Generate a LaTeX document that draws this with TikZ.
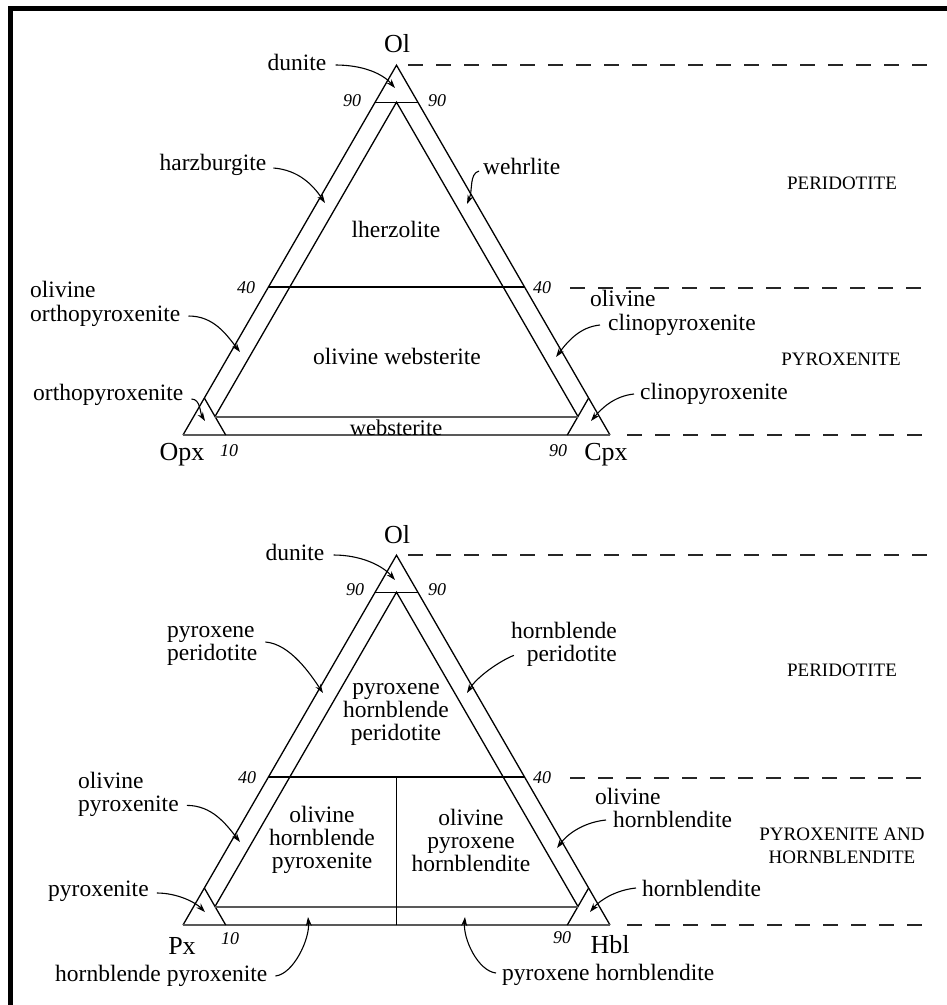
\documentclass[tikz,border=0pt]{standalone}
\usepackage{fontspec}
\setmainfont{Liberation Serif}
\usetikzlibrary{arrows.meta}
\newcommand{\drawtern}[3]{%
  \draw[tline] (#2) -- (#1) -- (#3);
  \draw[bline] (#2) -- (#3);
  \draw[tline] (barycentric cs:#1=0.9,#2=0.1) -- (barycentric cs:#1=0.9,#3=0.1);
  \draw[tline] (barycentric cs:#1=0.4,#2=0.6) -- (barycentric cs:#1=0.4,#3=0.6);
  \draw[tline] (barycentric cs:#2=0.9,#1=0.1) -- (barycentric cs:#2=0.9,#3=0.1);
  \draw[tline] (barycentric cs:#3=0.9,#1=0.1) -- (barycentric cs:#3=0.9,#2=0.1);
  \draw[tline] (barycentric cs:#2=0.9,#1=0.05,#3=0.05) -- (barycentric cs:#1=0.9,#2=0.05,#3=0.05) -- (barycentric cs:#3=0.9,#1=0.05,#2=0.05);
  \draw[bline] (barycentric cs:#2=0.9,#1=0.05,#3=0.05) -- (barycentric cs:#3=0.9,#1=0.05,#2=0.05);
}
\begin{document}
\begin{tikzpicture}[x=1pt,y=-1pt,
  tline/.style={line width=1.3pt, black},
  bline/.style={line width=2pt, black!65},
  zone/.style={line width=2pt, dash pattern=on 15pt off 13pt, black!85},
  lab/.style={inner sep=0pt, font=\fontsize{23.5}{23}\selectfont, align=left},
  labt/.style={inner sep=0pt, font=\fontsize{23.5}{23.5}\selectfont, align=left},
  labc/.style={inner sep=0pt, font=\fontsize{23.5}{23}\selectfont, align=center},
  corner/.style={inner sep=0pt, font=\fontsize{26}{26}\selectfont},
  pct/.style={inner sep=0pt, font=\fontsize{18}{18}\selectfont\itshape},
  caps/.style={inner sep=0pt, font=\fontsize{19}{23}\selectfont, align=center},
  arr/.style={-{Stealth[length=9pt,width=6pt]}, line width=1.1pt}]
\useasboundingbox (0,0) rectangle (947,1005);
\fill[white] (0,0) rectangle (947,1005);
% frame
\draw[line width=5pt, line join=miter] (10.8,1005) -- (10.8,8.5) -- (947,8.5);

% ---------- top triangle ----------
\coordinate (O1) at (396.5,65.2);
\coordinate (A1) at (183,435);
\coordinate (B1) at (610,435);
\drawtern{O1}{A1}{B1}
\draw[zone] (408,65.2) -- (930,65.2);
\draw[zone] (570,287.5) -- (930,287.5);
\draw[zone] (627,435) -- (930,435);

\node[corner] (ol1) at (397,44) {Ol};
\node[corner] (opx) at (182,455) {Opx};
\node[corner] (cpx) at (606,455) {Cpx};
\node[pct] (p90l1) at (352,101) {90};
\node[pct] (p90r1) at (437,101) {90};
\node[pct] (p40l1) at (246,288) {40};
\node[pct] (p40r1) at (542,288) {40};
\node[pct] (p10b1) at (229,451) {10};
\node[pct] (p90b1) at (558,451) {90};

\node[lab] (dun1) at (297,62) {dunite};
\node[lab] (harz) at (213,165) {harzburgite};
\node[lab,anchor=west] (wehr) at (483,166) {wehrlite};
\node[lab] (lherz) at (396,229) {lherzolite};
\node[labt,anchor=west] (oopx) at (30,304) {olivine\\orthopyroxenite};
\node[lab] (owebs) at (397,356) {olivine websterite};
\node[labt,anchor=west] (ocpx) at (590,313) {olivine\\\hspace*{18pt}clinopyroxenite};
\node[lab,anchor=west] (opxite) at (33,395) {orthopyroxenite};
\node[lab,anchor=west] (cpxite) at (640,394) {clinopyroxenite};
\node[lab,font=\fontsize{22.5}{23}\selectfont] (webs) at (396,427.5) {websterite};
\node[caps] (perid1) at (842,183) {PERIDOTITE};
\node[caps] (pyrox1) at (841,359) {PYROXENITE};

\coordinate (t-dun1) at (395,88);
\coordinate (t-harz) at (325,203);
\coordinate (t-wehr) at (467,204);
\coordinate (t-oopx) at (240,352);
\coordinate (t-ocpx) at (556,357);
\coordinate (t-opx) at (205,421);
\coordinate (t-cpx) at (591,421);
\draw[arr] ([shift={(9,3)}]dun1.east) .. controls +(28,0) and +(-12,-14) .. (t-dun1);
\draw[arr] ([shift={(7,3)}]harz.east) .. controls +(25,2) and +(-12,-18) .. (t-harz);
\draw[arr] ([shift={(-4,5)}]wehr.west) .. controls +(-10,3) and +(6,-14) .. (t-wehr);
\draw[arr] ([shift={(8,12)}]oopx.east) .. controls +(25,0) and +(-14,-18) .. (t-oopx);
\draw[arr] ([shift={(10,12)}]ocpx.west) .. controls +(-20,2) and +(12,-16) .. (t-ocpx);
\draw[arr] ([shift={(8,4)}]opxite.east) .. controls +(9,0) and +(-5,-8) .. (t-opx);
\draw[arr] ([shift={(-6,0)}]cpxite.west) .. controls +(-20,2) and +(10,-12) .. (t-cpx);

% ---------- bottom triangle ----------
\coordinate (O2) at (396.5,555.2);
\coordinate (A2) at (183,925);
\coordinate (B2) at (610,925);
\drawtern{O2}{A2}{B2}
\draw[tline] (barycentric cs:O2=0.4,A2=0.3,B2=0.3) -- (barycentric cs:A2=0.5,B2=0.5);
\draw[zone] (408,555.2) -- (930,555.2);
\draw[zone] (570,777.5) -- (930,777.5);
\draw[zone] (627,925) -- (930,925);

\node[corner] (ol2) at (397,535) {Ol};
\node[corner] (px) at (182,946) {Px};
\node[corner] (hbl) at (610,945) {Hbl};
\node[pct] (p90l2) at (355,590) {90};
\node[pct] (p90r2) at (437,590) {90};
\node[pct] (p40l2) at (247,778) {40};
\node[pct] (p40r2) at (542,778) {40};
\node[pct] (p10b2) at (230,939) {10};
\node[pct] (p90b2) at (562,938) {90};

\node[lab] (dun2) at (295,552) {dunite};
\node[lab,anchor=west] (pxper) at (167,646) {pyroxene\\peridotite};
\node[lab,anchor=east,align=right] (hbper) at (617,644) {hornblende\\peridotite};
\node[labc] (pxhbper) at (396,714) {pyroxene\\hornblende\\peridotite};
\node[lab,anchor=west] (olpx) at (78,794) {olivine\\pyroxenite};
\node[labc] (olhbpx) at (322,840) {olivine\\hornblende\\pyroxenite};
\node[labc] (olpxhb) at (471,840) {olivine\\pyroxene\\hornblendite};
\node[lab,anchor=west] (olhb) at (595,808) {olivine\\\hspace*{18pt}hornblendite};
\node[lab,anchor=west] (pxite) at (48,891) {pyroxenite};
\node[lab,anchor=west] (hbite) at (642,888) {hornblendite};
\node[lab,anchor=west] (hbpx) at (55,976) {hornblende pyroxenite};
\node[lab,anchor=west] (pxhb) at (502,975) {pyroxene hornblendite};
\node[caps] (perid2) at (842,670) {PERIDOTITE};
\node[caps] (pyrhb) at (842,846) {PYROXENITE AND\\HORNBLENDITE};

\coordinate (t-dun2) at (395,580);
\coordinate (t-pxper) at (323,693);
\coordinate (t-hbper) at (467,693);
\coordinate (t-olpx) at (240,842);
\coordinate (t-olhb) at (557,848);
\coordinate (t-px) at (205,912);
\coordinate (t-hb) at (590,912);
\coordinate (t-hbpx) at (308,917);
\coordinate (t-pxhb) at (465,917);
\draw[arr] ([shift={(9,3)}]dun2.east) .. controls +(28,0) and +(-12,-14) .. (t-dun2);
\draw[arr] ([shift={(8,-4)}]pxper.east) .. controls +(25,2) and +(-12,-18) .. (t-pxper);
\draw[arr] ([shift={(3,-11)}]hbper.south west) .. controls +(-15,6) and +(10,-16) .. (t-hbper);
\draw[arr] ([shift={(8,-11)}]olpx.south east) .. controls +(25,0) and +(-14,-18) .. (t-olpx);
\draw[arr] ([shift={(11,12)}]olhb.west) .. controls +(-20,2) and +(12,-16) .. (t-olhb);
\draw[arr] ([shift={(8,2)}]pxite.east) .. controls +(20,0) and +(-10,-10) .. (t-px);
\draw[arr] ([shift={(-6,0)}]hbite.west) .. controls +(-20,2) and +(10,-12) .. (t-hb);
\draw[arr] ([shift={(8,0)}]hbpx.east) .. controls +(18,-2) and +(2,22) .. (t-hbpx);
\draw[arr] ([shift={(-6,-2)}]pxhb.west) .. controls +(-18,-2) and +(-2,22) .. (t-pxhb);
\end{tikzpicture}
\end{document}
